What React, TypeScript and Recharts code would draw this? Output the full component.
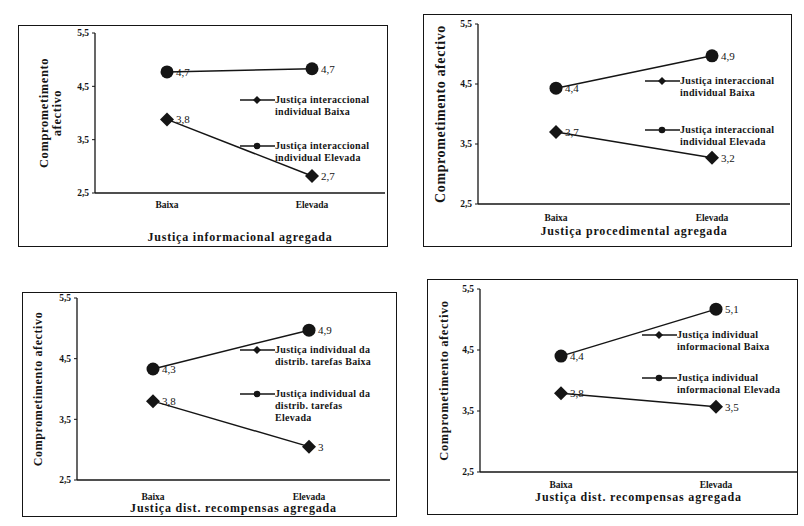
import React from "react";
import { LineChart, Line, XAxis, YAxis, Legend, LabelList, Label } from "recharts";

const INK = "#151515";
const FONT = "'Liberation Serif', 'DejaVu Serif', serif";

const categories = ["Baixa", "Elevada"];
const yTicks = [2.5, 3.5, 4.5, 5.5];
const yTitle = "Comprometimento afectivo";

// painel 1 - justiça informacional agregada
const p1Baixa = [3.88, 2.82];
const p1Elevada = [4.77, 4.83];
const p1BaixaLabels = ["3,8", "2,7"];
const p1ElevadaLabels = ["4,7", "4,7"];
const p1Legend = [["Justiça interaccional", "individual Baixa"], ["Justiça interaccional", "individual Elevada"]];

// painel 2 - justiça procedimental agregada
const p2Baixa = [3.7, 3.27];
const p2Elevada = [4.43, 4.97];
const p2BaixaLabels = ["3,7", "3,2"];
const p2ElevadaLabels = ["4,4", "4,9"];
const p2Legend = [["Justiça interaccional", "individual Baixa"], ["Justiça interaccional", "individual Elevada"]];

// painel 3 - justiça dist. recompensas (tarefas)
const p3Baixa = [3.8, 3.05];
const p3Elevada = [4.33, 4.97];
const p3BaixaLabels = ["3,8", "3"];
const p3ElevadaLabels = ["4,3", "4,9"];
const p3Legend = [["Justiça individual da", "distrib. tarefas  Baixa"], ["Justiça individual da", "distrib. tarefas", "Elevada"]];

// painel 4 - justiça dist. recompensas (informacional)
const p4Baixa = [3.79, 3.57];
const p4Elevada = [4.4, 5.17];
const p4BaixaLabels = ["3,8", "3,5"];
const p4ElevadaLabels = ["4,4", "5,1"];
const p4Legend = [["Justiça individual", "informacional Baixa"], ["Justiça individual", "informacional Elevada"]];

function rows(baixa: number[], elevada: number[], bl: string[], el: string[]) {
  return categories.map((cat, i) => ({
    cat,
    baixa: baixa[i],
    elevada: elevada[i],
    baixaLabel: bl[i],
    elevadaLabel: el[i],
  }));
}

const panels = [
  {
    data: rows(p1Baixa, p1Elevada, p1BaixaLabels, p1ElevadaLabels),
    legend: p1Legend,
    xTitle: "Justiça informacional agregada",
    yLines: ["Comprometimento", "afectivo"],
    yFont: 12.5,
    box: { left: 18, top: 25, w: 370, h: 222 },
    plot: { left: 77, top: 8, right: 3, bottom: 54 },
    pad: [72, 73],
    legendPos: { x: 222, y1: 75, y2: 121 },
    yTitleX: 27,
    tickGap: 8,
    titleY: 213,
  },
  {
    data: rows(p2Baixa, p2Elevada, p2BaixaLabels, p2ElevadaLabels),
    legend: p2Legend,
    xTitle: "Justiça procedimental agregada",
    yLines: [yTitle],
    yFont: 14,
    box: { left: 423, top: 14, w: 369, h: 233 },
    plot: { left: 55, top: 10, right: 2, bottom: 43 },
    pad: [78, 78],
    legendPos: { x: 222, y1: 67, y2: 116 },
    yTitleX: 19,
    tickGap: 10,
    titleY: 218,
  },
  {
    data: rows(p3Baixa, p3Elevada, p3BaixaLabels, p3ElevadaLabels),
    legend: p3Legend,
    xTitle: "Justiça dist. recompensas agregada",
    yLines: [yTitle],
    yFont: 12,
    box: { left: 22, top: 292, w: 375, h: 225 },
    plot: { left: 55, top: 6, right: 7, bottom: 37 },
    pad: [76, 81],
    legendPos: { x: 218, y1: 58, y2: 102 },
    yTitleX: 17,
    tickGap: 13,
    titleY: 217,
  },
  {
    data: rows(p4Baixa, p4Elevada, p4BaixaLabels, p4ElevadaLabels),
    legend: p4Legend,
    xTitle: "Justiça dist. recompensas agregada",
    yLines: [yTitle],
    yFont: 12.5,
    box: { left: 427, top: 279, w: 371, h: 236 },
    plot: { left: 53, top: 10, right: 1, bottom: 43 },
    pad: [81, 81],
    legendPos: { x: 215, y1: 56, y2: 99 },
    yTitleX: 18,
    tickGap: 9,
    titleY: 219,
  },
];

const renderDiamond = (props: any) => {
  const { cx, cy, index } = props;
  if (cx == null || cy == null) return <g key={`d-${index}`} />;
  const r = 7;
  return (
    <polygon
      key={`d-${index}`}
      points={`${cx},${cy - r} ${cx + r},${cy} ${cx},${cy + r} ${cx - r},${cy}`}
      fill={INK}
    />
  );
};

const renderCircle = (props: any) => {
  const { cx, cy, index } = props;
  if (cx == null || cy == null) return <g key={`c-${index}`} />;
  return <circle key={`c-${index}`} cx={cx} cy={cy} r={6.5} fill={INK} />;
};

function LegendBlock({ payload, gap }: { payload?: any[]; gap: number }) {
  // baixa (losango) first, elevada (círculo) second
  const items = [...(payload ?? [])].sort((a, b) =>
    a.dataKey === b.dataKey ? 0 : a.dataKey === "baixa" ? -1 : 1
  );
  return (
    <div style={{ position: "relative", width: 150, height: gap + 40, fontFamily: FONT }}>
      {items.map((item, i) => {
        const lines = String(item.value).split("\n");
        const isDiamond = item.dataKey === "baixa";
        return (
          <div key={i} style={{ position: "absolute", left: 0, top: i * gap, display: "flex" }}>
            <svg width={35} height={12} style={{ flex: "none" }}>
              <line x1={0} y1={6} x2={35} y2={6} stroke={INK} strokeWidth={1.3} />
              {isDiamond ? (
                <polygon points="17,2 21,6 17,10 13,6" fill={INK} />
              ) : (
                <circle cx={17} cy={6} r={3.3} fill={INK} />
              )}
            </svg>
            <div
              style={{
                fontSize: 10,
                fontWeight: 700,
                lineHeight: "12px",
                color: INK,
                letterSpacing: 0.3,
                whiteSpace: "nowrap",
              }}
            >
              {lines.map((l, j) => (
                <div key={j}>{l}</div>
              ))}
            </div>
          </div>
        );
      })}
    </div>
  );
}

function Panel({ cfg }: { cfg: (typeof panels)[number] }) {
  const { box, plot, pad, legendPos } = cfg;
  const fmt = (v: number) => String(v).replace(".", ",");
  const yTitleContent = () => {
    const cy = plot.top + (box.h - plot.top - plot.bottom) / 2;
    const cx = cfg.yTitleX;
    return (
      <text
        transform={`rotate(-90 ${cx} ${cy})`}
        x={cx}
        y={cy}
        textAnchor="middle"
        dominantBaseline="middle"
        fontFamily={FONT}
        fontWeight={700}
        fontSize={cfg.yFont}
        letterSpacing={0.6}
        fill={INK}
      >
        {cfg.yLines.map((l, i) => (
          <tspan key={i} x={cx} dy={i === 0 ? 0 : 13}>
            {l}
          </tspan>
        ))}
      </text>
    );
  };
  return (
    <div
      style={{
        position: "absolute",
        left: box.left,
        top: box.top,
        width: box.w,
        height: box.h,
        border: `1px solid ${INK}`,
        boxSizing: "border-box",
      }}
    >
      <div style={{ position: "absolute", left: -1, top: -1 }}>
        <LineChart
          width={box.w}
          height={box.h}
          data={cfg.data}
          margin={{ top: plot.top, right: plot.right, bottom: 0, left: 0 }}
        >
          <XAxis
            dataKey="cat"
            height={plot.bottom}
            padding={{ left: pad[0], right: pad[1] }}
            axisLine={{ stroke: INK, strokeWidth: 1.3 }}
            tickLine={false}
            tickMargin={cfg.tickGap - 6}
            tick={{ fill: INK, fontSize: 9.5, fontWeight: 700, fontFamily: FONT }}
          >
            <Label
              value={cfg.xTitle}
              position="insideBottom"
              offset={box.h - cfg.titleY - 3}
              style={{ fill: INK, fontSize: 12, fontWeight: 700, fontFamily: FONT, letterSpacing: 0.8 }}
            />
          </XAxis>
          <XAxis
            xAxisId="top"
            orientation="top"
            dataKey="cat"
            height={0}
            padding={{ left: pad[0], right: pad[1] }}
            axisLine={{ stroke: INK, strokeWidth: 1.3 }}
            tick={false}
            tickLine={false}
          />
          <YAxis
            width={plot.left}
            domain={[2.5, 5.5]}
            ticks={yTicks}
            tickFormatter={fmt}
            axisLine={{ stroke: INK, strokeWidth: 1.3 }}
            tickLine={{ stroke: INK }}
            tickSize={3}
            tickMargin={3}
            tick={{ fill: INK, fontSize: 9.5, fontWeight: 700, fontFamily: FONT }}
          >
            <Label content={yTitleContent} />
          </YAxis>
          <YAxis
            yAxisId="right"
            orientation="right"
            width={0}
            domain={[2.5, 5.5]}
            axisLine={{ stroke: INK, strokeWidth: 1.3 }}
            tick={false}
            tickLine={false}
          />
          <Legend
            layout="vertical"
            align="center"
            verticalAlign="middle"
            wrapperStyle={{ left: legendPos.x, top: legendPos.y1 - 6, width: 150 }}
            content={(p: any) => <LegendBlock payload={p.payload} gap={legendPos.y2 - legendPos.y1} />}
          />
          <Line
            dataKey="baixa"
            name={cfg.legend[0].join("\n")}
            stroke={INK}
            strokeWidth={1.5}
            dot={renderDiamond}
            activeDot={false}
            isAnimationActive={false}
          >
            <LabelList
              dataKey="baixaLabel"
              position="right"
              offset={9}
              style={{ fill: INK, fontSize: 11, fontFamily: FONT }}
            />
          </Line>
          <Line
            dataKey="elevada"
            name={cfg.legend[1].join("\n")}
            stroke={INK}
            strokeWidth={1.5}
            dot={renderCircle}
            activeDot={false}
            isAnimationActive={false}
          >
            <LabelList
              dataKey="elevadaLabel"
              position="right"
              offset={9}
              style={{ fill: INK, fontSize: 11, fontFamily: FONT }}
            />
          </Line>
        </LineChart>
      </div>
    </div>
  );
}

export default function App() {
  return (
    <div
      style={{
        position: "absolute",
        left: 0,
        top: 0,
        width: 804,
        height: 526,
        background: "#fff",
        overflow: "hidden",
      }}
    >
      {panels.map((cfg, i) => (
        <Panel key={i} cfg={cfg} />
      ))}
    </div>
  );
}
